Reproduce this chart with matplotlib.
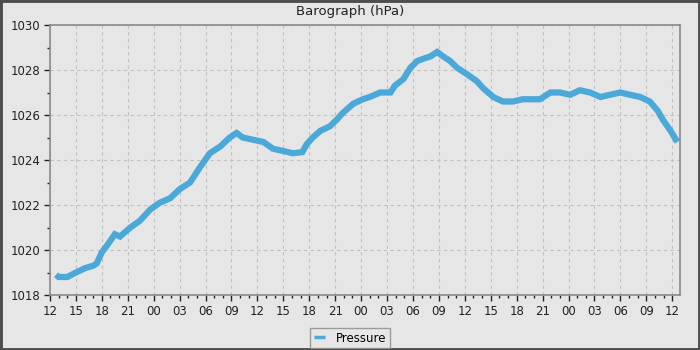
import matplotlib
matplotlib.use("Agg")
import matplotlib.pyplot as plt
from matplotlib.patches import Rectangle

# hours since 12:00 on the first day
hours = [0.7, 1.0, 2.0, 3.0, 4.1, 5.0, 5.4, 6.0, 6.6, 7.5, 8.1, 9.3, 10.4, 11.6,
         12.7, 13.9, 15.0, 16.2, 17.4, 18.5, 19.7, 20.8, 21.6, 22.3, 23.5, 24.7,
         25.8, 27.0, 28.1, 29.2, 29.7, 30.4, 31.3, 32.4, 33.2, 33.9, 35.1, 36.2,
         37.0, 38.2, 39.4, 39.9, 40.9, 41.7, 42.5, 43.2, 44.0, 44.8, 45.5, 46.3,
         47.1, 48.3, 49.4, 50.1, 51.3, 52.4, 53.6, 54.7, 56.7, 57.9, 59.0, 60.2,
         61.3, 62.5, 63.7, 64.8, 66.0, 67.1, 68.3, 69.4, 70.3, 70.9, 71.8, 72.6]
pressure = [1018.9, 1018.8, 1018.8, 1019.0, 1019.2, 1019.3, 1019.4, 1019.9, 1020.2,
            1020.7, 1020.6, 1021.0, 1021.3, 1021.8, 1022.1, 1022.3, 1022.7, 1023.0,
            1023.7, 1024.3, 1024.6, 1025.0, 1025.2, 1025.0, 1024.9, 1024.8, 1024.5,
            1024.4, 1024.3, 1024.35, 1024.7, 1025.0, 1025.3, 1025.5, 1025.8, 1026.1,
            1026.5, 1026.7, 1026.8, 1027.0, 1027.0, 1027.3, 1027.6, 1028.1, 1028.4,
            1028.5, 1028.6, 1028.8, 1028.6, 1028.4, 1028.1, 1027.8, 1027.5, 1027.2,
            1026.8, 1026.6, 1026.6, 1026.7, 1026.7, 1027.0, 1027.0, 1026.9, 1027.1,
            1027.0, 1026.8, 1026.9, 1027.0, 1026.9, 1026.8, 1026.6, 1026.2, 1025.8,
            1025.3, 1024.8]
tick_hours = list(range(0, 73, 3))
tick_labels = ["12", "15", "18", "21", "00", "03", "06", "09",
               "12", "15", "18", "21", "00", "03", "06", "09",
               "12", "15", "18", "21", "00", "03", "06", "09", "12"]

bg = "#e6e6e6"
fig = plt.figure(figsize=(7, 3.5), dpi=100, facecolor=bg)
ax = fig.add_axes([50/700, 55/350, 630/700, 270/350])
ax.set_facecolor(bg)

ax.plot(hours, pressure, color="#4ba9d9", lw=4.5, solid_capstyle="butt",
        solid_joinstyle="miter", label="Pressure")

ax.set_xlim(0, 72.9)
ax.set_ylim(1018, 1030)
ax.set_xticks(tick_hours)
ax.set_xticklabels(tick_labels)
ax.set_xticks(range(0, 73), minor=True)
ax.set_yticks(range(1018, 1031, 2))
ax.set_yticks(range(1019, 1030, 2), minor=True)

for s in ax.spines.values():
    s.set_color("#8a8a8a")
    s.set_linewidth(1.2)

ax.tick_params(axis="both", which="major", length=4, width=1, color="#222222",
               labelsize=8.5, labelcolor="#222222", pad=3)
ax.tick_params(axis="both", which="minor", length=2, width=1, color="#222222")

ax.grid(True, which="major", color="#c0c0c0", linestyle=(0, (3, 3)), lw=0.8)
ax.set_axisbelow(True)

fig.suptitle("Barograph (hPa)", x=350/700, y=1 - 12/350, va="center",
             fontsize=9.5, color="#222222")

leg = fig.legend(loc="center", bbox_to_anchor=(350/700, 1 - 338/350),
                 fontsize=8.5, frameon=True, fancybox=False, handlelength=1.0,
                 borderpad=0.3, handletextpad=0.9, borderaxespad=0)
leg.get_frame().set_facecolor(bg)
leg.get_frame().set_edgecolor("#888888")
leg.get_frame().set_linewidth(1.0)
for line in leg.get_lines():
    line.set_linewidth(2.5)

fig.patches.append(Rectangle((0, 0), 1, 1, transform=fig.transFigure,
                             fill=False, edgecolor="#4d4d4d", lw=3.5))

fig.savefig("out.png", dpi=100, facecolor=bg)
